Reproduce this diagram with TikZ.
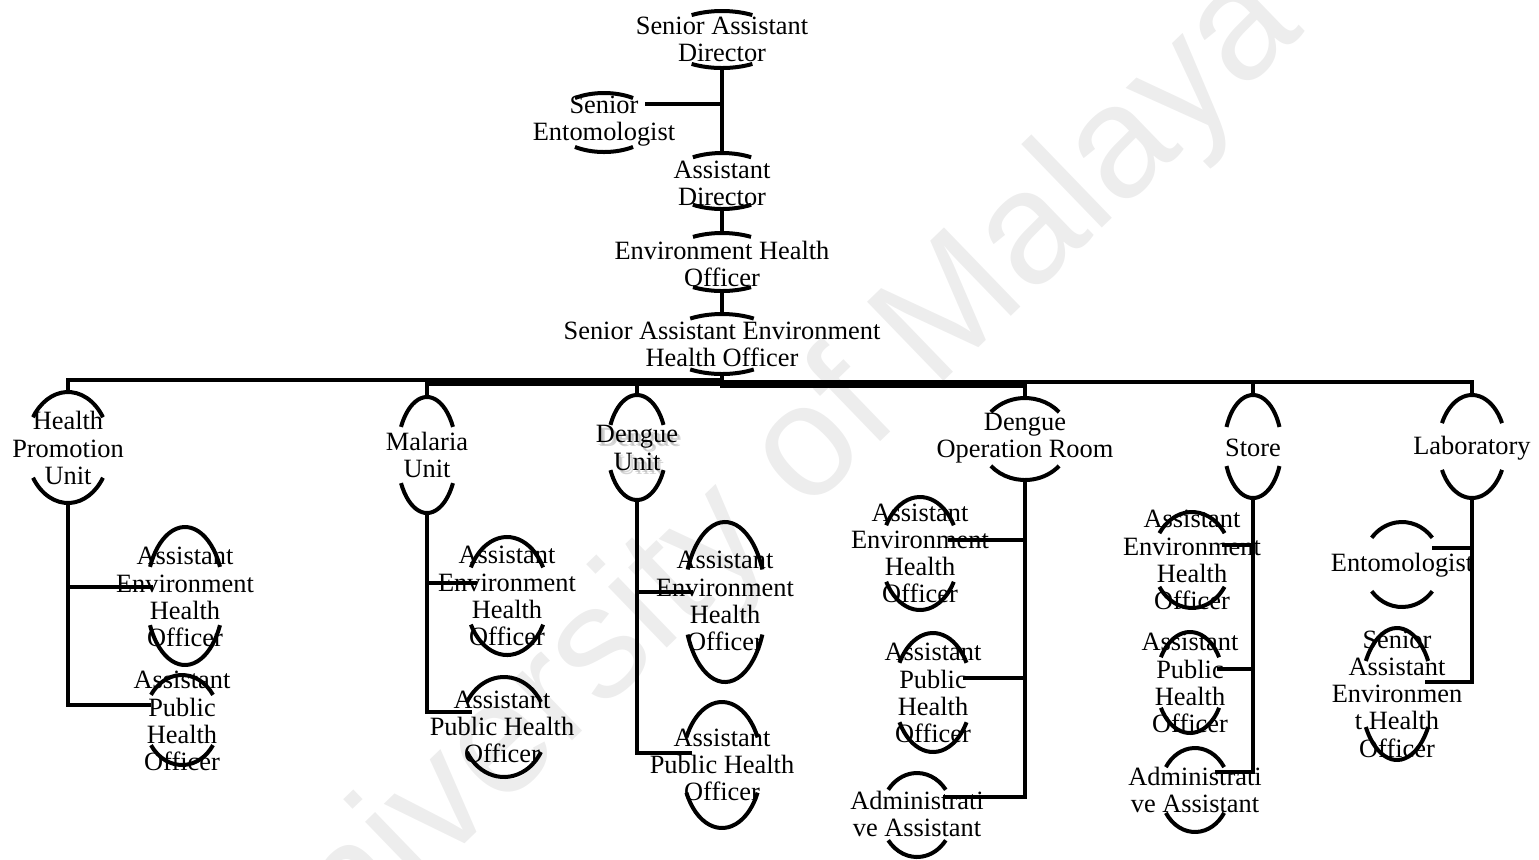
\documentclass[tikz,border=0pt]{standalone}
\usepackage{fontspec}
\setmainfont{Liberation Serif}
\newfontfamily\markfont{Liberation Sans}

% Top and bottom arcs of an open oval, plus its north/south connection points.
% #1 name, #2 cx, #3 cy (downwards), #4 x radius, #5 y radius, #6 half sweep (deg)
\newcommand\rims[6]{%
  \draw[rim] ({#2+#4*cos(90-#6)},{-(#3)+#5*sin(90-#6)})
    arc[start angle={90-#6}, end angle={90+#6}, x radius={#4*0.5pt}, y radius={#5*0.5pt}];
  \draw[rim] ({#2+#4*cos(270-#6)},{-(#3)+#5*sin(270-#6)})
    arc[start angle={270-#6}, end angle={270+#6}, x radius={#4*0.5pt}, y radius={#5*0.5pt}];
  \coordinate (#1-n) at (#2,{-(#3)+#5});
  \coordinate (#1-s) at (#2,{-(#3)-#5});
}

\begin{document}
\begin{tikzpicture}[x=0.5pt, y=0.5pt,
  lbl/.style={font=\fontsize{13.2}{13.6}\selectfont, align=center, inner sep=0pt},
  rim/.style={line width=2pt},
  edge/.style={line width=2.4pt},
  wmark/.style={font=\markfont\fontsize{80}{80}\selectfont, text=black!7,
    rotate=44, anchor=base, inner sep=0pt},
  shade/.style={lbl, text=black!30, opacity=.55}]
\useasboundingbox (0,0) rectangle (1539,-859);

% background lettering
\node[wmark] (wm) at (788,-532) {University of Malaya};

% ---- management chain ----
\node[lbl] (sad) at (722,-39) {Senior Assistant\\Director};
\rims{sad}{722}{39.5}{59}{28.5}{31}
\node[lbl] (se) at (604,-121) {Senior\\Entomologist};
\rims{se}{604}{122.5}{52}{29.5}{34}
\coordinate (se-e) at (645,-104);
\node[lbl] (ad) at (722,-183) {Assistant\\Director};
\rims{ad}{722}{181}{55}{28}{32}
\node[lbl] (eho) at (722,-264) {Environment Health\\Officer};
\rims{eho}{722}{262}{58}{29}{30}
\node[lbl] (saeho) at (722,-344) {Senior Assistant Environment\\Health Officer};
\rims{saeho}{722}{344}{60}{30}{32}

% ---- units ----
\node[lbl] (hpu) at (68,-448) {Health\\Promotion\\Unit};
\rims{hpu}{68}{447.5}{41.7}{55.5}{57}
\node[lbl] (mal) at (427,-455) {Malaria\\Unit};
\rims{mal}{427}{455}{29.7}{58}{61}
\node[shade] (den-sh1) at (639,-450.5) {Dengue\\Unit};
\node[shade] (den-sh2) at (640.5,-452) {Dengue\\Unit};
\node[lbl] (den) at (637,-448) {Dengue\\Unit};
\rims{den}{637}{447.5}{29.4}{52.5}{64.5}
\node[lbl] (dor) at (1025,-438) {Dengue\\Operation Room};
\rims{dor}{1025}{439}{45.2}{41}{49}
\node[lbl] (sto) at (1253,-448) {Store};
\rims{sto}{1253}{446.5}{28.6}{51.5}{67.7}
\node[lbl] (lab) at (1472,-448) {Laboratory};
\rims{lab}{1472}{446.5}{33.7}{51.5}{63}

% ---- staff under Health Promotion Unit ----
\node[lbl] (hpu1) at (185,-597) {Assistant\\Environment\\Health\\Officer};
\rims{hpu1}{185}{596}{38.6}{69}{65}
\coordinate (hpu1-in) at (153,-587);
\node[lbl] (hpu2) at (182,-721) {Assistant\\Public\\Health\\Officer};
\rims{hpu2}{182}{720}{37.4}{45}{56}
\coordinate (hpu2-in) at (151,-705);

% ---- staff under Malaria Unit ----
\node[lbl] (mal1) at (507,-596) {Assistant\\Environment\\Health\\Officer};
\rims{mal1}{507}{596}{41.3}{59}{61}
\coordinate (mal1-in) at (477,-583);
\node[lbl] (mal2) at (502,-727) {Assistant\\Public Health\\Officer};
\rims{mal2}{504}{727}{42.7}{50}{60}
\coordinate (mal2-in) at (472,-712);

% ---- staff under Dengue Unit ----
\node[lbl] (den1) at (725,-601) {Assistant\\Environment\\Health\\Officer};
\rims{den1}{725}{602}{40.9}{80}{66}
\coordinate (den1-in) at (693,-592);
\node[lbl] (den2) at (722,-765) {Assistant\\Public Health\\Officer};
\rims{den2}{722}{765}{39.6}{63}{64}
\coordinate (den2-in) at (692,-753);

% ---- staff under Dengue Operation Room ----
\node[lbl] (dor1) at (920,-553.5) {Assistant\\Environment\\Health\\Officer};
\rims{dor1}{920}{553.5}{39}{56.5}{60}
\coordinate (dor1-in) at (948,-540);
\node[lbl] (dor2) at (933,-693) {Assistant\\Public\\Health\\Officer};
\rims{dor2}{933}{692.5}{38.7}{59.5}{60}
\coordinate (dor2-in) at (963,-678);
\node[lbl] (dor3) at (917,-814) {Administrati\\ve Assistant};
\rims{dor3}{917}{815}{36}{42}{53}
\coordinate (dor3-in) at (943,-797);

% ---- staff under Store ----
\node[lbl] (sto1) at (1192,-560) {Assistant\\Environment\\Health\\Officer};
\rims{sto1}{1192}{560}{39.3}{48}{56}
\coordinate (sto1-in) at (1222,-545);
\node[lbl] (sto2) at (1190,-683) {Assistant\\Public\\Health\\Officer};
\rims{sto2}{1190}{682.5}{33.6}{50.5}{60}
\coordinate (sto2-in) at (1217,-669);
\node[lbl] (sto3) at (1195,-790) {Administrati\\ve Assistant};
\rims{sto3}{1195}{790}{34.7}{42}{57}
\coordinate (sto3-in) at (1215,-772);

% ---- staff under Laboratory ----
\node[lbl] (lab1) at (1402,-565) {Entomologist};
\rims{lab1}{1402}{564.5}{39}{42.5}{51}
\coordinate (lab1-in) at (1432,-548);
\node[lbl] (lab2) at (1397,-694) {Senior\\Assistant\\Environmen\\t Health\\Officer};
\rims{lab2}{1397}{694}{36}{66}{60}
\coordinate (lab2-in) at (1425,-682);

% ---- connectors ----
\draw[edge] (sad-s) -- (ad-n);
\draw[edge] (se-e) -- (se-e -| sad-s);
\draw[edge] (ad-s) -- (eho-n);
\draw[edge] (eho-s) -- (saeho-n);

\draw[edge] (saeho-s) -- ++(0,-6)  -| (hpu-n);
\draw[edge] (saeho-s) -- ++(0,-10) -| (mal-n);
\draw[edge] (saeho-s) -- ++(0,-10) -| (den-n);
\draw[edge] (saeho-s) -- ++(0,-12) -| (dor-n);
\draw[edge] (saeho-s) -- ++(0,-8)  -| (sto-n);
\draw[edge] (saeho-s) -- ++(0,-8)  -| (lab-n);

\draw[edge] (hpu-s) |- (hpu1-in);
\draw[edge] (hpu-s) |- (hpu2-in);
\draw[edge] (mal-s) |- (mal1-in);
\draw[edge] (mal-s) |- (mal2-in);
\draw[edge] (den-s) |- (den1-in);
\draw[edge] (den-s) |- (den2-in);
\draw[edge] (dor-s) |- (dor1-in);
\draw[edge] (dor-s) |- (dor2-in);
\draw[edge] (dor-s) |- (dor3-in);
\draw[edge] (sto-s) |- (sto1-in);
\draw[edge] (sto-s) |- (sto2-in);
\draw[edge] (sto-s) |- (sto3-in);
\draw[edge] (lab-s) |- (lab1-in);
\draw[edge] (lab-s) |- (lab2-in);
\end{tikzpicture}
\end{document}
